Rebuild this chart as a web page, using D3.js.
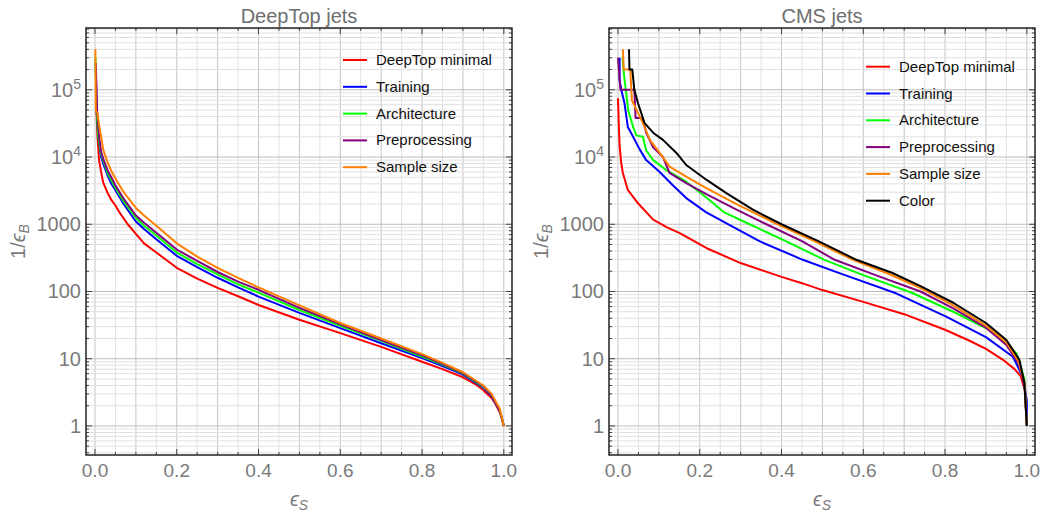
<!DOCTYPE html>
<html>
<head>
<meta charset="utf-8">
<script src="https://cdn.jsdelivr.net/npm/d3@7"></script>
<style>
  body { margin: 0; background: #fff; }
  svg { display: block; font-family: "Liberation Sans", Arial, sans-serif; }
</style>
</head>
<body>
<div id="chart"></div>
<script>
// ---- data: [signal efficiency, 1/background efficiency] ----
const dtMinimal = [[0.003, 6e4], [0.006, 2e4], [0.01, 9000], [0.015, 6000], [0.02, 4200], [0.03, 3000], [0.04, 2300], [0.05, 1900], [0.06, 1500], [0.08, 1000], [0.1, 720], [0.12, 520], [0.15, 380], [0.2, 225], [0.25, 155], [0.3, 113], [0.35, 85], [0.4, 63], [0.5, 38], [0.6, 24], [0.7, 15], [0.8, 9], [0.85, 7], [0.9, 5.3], [0.93, 4.2], [0.95, 3.4], [0.97, 2.6], [0.98, 2.1], [0.99, 1.6], [0.997, 1.2], [1.0, 1]];
const dtTraining = [[0.002, 2e5], [0.004, 5e4], [0.008, 2e4], [0.015, 1e4], [0.02, 8000], [0.03, 5500], [0.04, 4000], [0.05, 3200], [0.07, 2000], [0.1, 1100], [0.12, 850], [0.15, 600], [0.2, 340], [0.25, 230], [0.3, 160], [0.35, 115], [0.4, 84], [0.5, 48], [0.6, 28.5], [0.7, 17], [0.8, 10.2], [0.85, 7.8], [0.9, 5.8], [0.95, 3.7], [0.97, 2.8], [0.99, 1.7], [1.0, 1]];
const dtArchitecture = [[0.001, 3e5], [0.004, 5e4], [0.008, 2e4], [0.015, 1.1e4], [0.02, 9000], [0.03, 6000], [0.04, 4500], [0.05, 3500], [0.07, 2200], [0.1, 1250], [0.12, 950], [0.15, 680], [0.2, 380], [0.25, 255], [0.3, 180], [0.35, 128], [0.4, 96], [0.5, 53], [0.6, 31], [0.7, 18.5], [0.8, 10.8], [0.85, 8.2], [0.9, 6], [0.95, 3.8], [0.97, 2.9], [0.99, 1.7], [1.0, 1]];
const dtPreprocessing = [[0.002, 2.5e5], [0.005, 5e4], [0.01, 2e4], [0.015, 1.2e4], [0.02, 9500], [0.03, 6500], [0.04, 5000], [0.05, 3800], [0.07, 2400], [0.1, 1350], [0.12, 1050], [0.15, 750], [0.2, 420], [0.25, 285], [0.3, 195], [0.35, 140], [0.4, 106], [0.5, 57], [0.6, 32.5], [0.7, 19], [0.8, 11.2], [0.85, 8.4], [0.9, 6.1], [0.95, 3.9], [0.97, 2.9], [0.99, 1.7], [1.0, 1]];
const dtSampleSize = [[0.001, 4e5], [0.002, 5e4], [0.006, 4.5e4], [0.01, 3e4], [0.015, 2e4], [0.02, 1.3e4], [0.03, 8500], [0.04, 6200], [0.05, 4800], [0.07, 3000], [0.1, 1750], [0.12, 1350], [0.15, 950], [0.2, 520], [0.25, 330], [0.3, 225], [0.35, 160], [0.4, 115], [0.5, 62], [0.6, 34], [0.7, 20], [0.8, 11.7], [0.85, 8.7], [0.9, 6.3], [0.95, 4], [0.97, 3], [0.99, 1.8], [1.0, 1]];

const cmsMinimal = [[0.0, 7.5e4], [0.002, 3e4], [0.004, 1.45e4], [0.008, 8000], [0.012, 5800], [0.024, 3240], [0.049, 2050], [0.086, 1170], [0.12, 900], [0.151, 740], [0.217, 440], [0.3, 265], [0.4, 165], [0.45, 133], [0.5, 105], [0.6, 70], [0.7, 46], [0.8, 27], [0.86, 18.5], [0.9, 14], [0.94, 9.8], [0.97, 7], [0.985, 5.5], [0.995, 3.4], [1.0, 1]];
const cmsTraining = [[0.004, 3e5], [0.004, 1.4e5], [0.008, 1e5], [0.016, 6.3e4], [0.024, 2.8e4], [0.037, 2e4], [0.053, 1.3e4], [0.069, 9000], [0.102, 6000], [0.134, 3800], [0.167, 2450], [0.216, 1500], [0.27, 1000], [0.346, 560], [0.452, 296], [0.55, 180], [0.68, 94], [0.804, 42], [0.9, 21], [0.966, 10.7], [0.99, 5.4], [1.0, 2.4], [1.0, 1]];
const cmsArchitecture = [[0.011, 3e5], [0.016, 1.4e5], [0.02, 9e4], [0.025, 5e4], [0.037, 2.8e4], [0.045, 2.1e4], [0.061, 2e4], [0.069, 1.25e4], [0.086, 9000], [0.118, 6400], [0.167, 4300], [0.216, 2500], [0.26, 1500], [0.322, 1000], [0.4, 600], [0.505, 296], [0.6, 175], [0.72, 95], [0.82, 50], [0.918, 25], [0.975, 12], [0.994, 5], [1.0, 1]];
const cmsPreprocessing = [[0.0, 3e5], [0.004, 1.4e5], [0.006, 1e5], [0.04, 1e5], [0.043, 3.8e4], [0.06, 3.8e4], [0.069, 2.3e4], [0.086, 1.4e4], [0.11, 1e4], [0.126, 5800], [0.167, 4100], [0.216, 2800], [0.29, 1650], [0.363, 1000], [0.45, 560], [0.53, 296], [0.63, 175], [0.74, 100], [0.82, 56], [0.9, 29], [0.95, 16], [0.98, 8.5], [0.995, 4], [1.0, 1]];
const cmsSampleSize = [[0.012, 4e5], [0.014, 2e5], [0.03, 2e5], [0.034, 7e4], [0.061, 3.2e4], [0.078, 1.8e4], [0.102, 1.15e4], [0.126, 7200], [0.167, 5100], [0.216, 3450], [0.29, 2000], [0.39, 1000], [0.47, 600], [0.575, 296], [0.66, 185], [0.74, 112], [0.82, 62], [0.9, 31], [0.95, 17.5], [0.98, 9], [0.995, 4.2], [1.0, 1]];
const cmsColor = [[0.027, 4e5], [0.028, 2e5], [0.035, 2e5], [0.04, 1e5], [0.049, 6.3e4], [0.065, 3.2e4], [0.086, 2.3e4], [0.11, 1.8e4], [0.143, 1.15e4], [0.167, 7600], [0.216, 4600], [0.265, 2900], [0.33, 1650], [0.4, 1000], [0.49, 560], [0.583, 296], [0.67, 190], [0.74, 120], [0.82, 68], [0.9, 34], [0.95, 19], [0.982, 9.6], [0.994, 4.4], [1.0, 1]];

const dtNames = ["DeepTop minimal", "Training", "Architecture", "Preprocessing", "Sample size"];
const cmsNames = ["DeepTop minimal", "Training", "Architecture", "Preprocessing", "Sample size", "Color"];
const colors = ["#ff0000", "#0000ff", "#00ff00", "#800080", "#ff8000", "#000000"];
const xTicks = [0, 0.2, 0.4, 0.6, 0.8, 1.0];
const yTicks = [1, 10, 100, 1000, 1e4, 1e5];

const width = 1042,
  height = 513,
  plotTop = 28,
  plotBottom = 455;

const svg = d3.select("#chart").append("svg").attr("width", width).attr("height", height);

const drawPanel = (left, right, title, names, series, legendX, legendY, id) => {
  const x = d3.scaleLinear().domain([-0.022, 1.02]).range([left, right]);
  const y = d3.scaleLog().domain([0.37, 8.3e5]).range([plotBottom, plotTop]);
  const g = svg.append("g");

  // grid
  const xGrid = d3.range(0, 21).map((i) => i * 0.05);
  g.selectAll(".vgrid")
    .data(xGrid)
    .enter()
    .append("line")
    .attr("x1", (d) => x(d))
    .attr("x2", (d) => x(d))
    .attr("y1", plotTop)
    .attr("y2", plotBottom)
    .attr("stroke", (d, i) => (i % 2 === 0 ? "#c4c4c4" : "#e2e2e2"))
    .attr("stroke-width", 1);

  const yGrid = [];
  for (let k = -1; k <= 5; k++) for (let m = 1; m <= 9; m++) yGrid.push(m * Math.pow(10, k));
  const inY = yGrid.filter((v) => v > 0.37 && v < 8.3e5);
  g.selectAll(".hgrid")
    .data(inY)
    .enter()
    .append("line")
    .attr("x1", left)
    .attr("x2", right)
    .attr("y1", (d) => y(d))
    .attr("y2", (d) => y(d))
    .attr("stroke", (d) => (yTicks.includes(d) ? "#bdbdbd" : "#e0e0e0"))
    .attr("stroke-width", 1);

  // curves
  svg.append("clipPath").attr("id", id).append("rect").attr("x", left).attr("y", plotTop).attr("width", right - left).attr("height", plotBottom - plotTop);
  const line = d3
    .line()
    .x((d) => x(d[0]))
    .y((d) => y(d[1]));
  g.append("g")
    .attr("clip-path", "url(#" + id + ")")
    .selectAll("path")
    .data(series)
    .enter()
    .append("path")
    .attr("d", line)
    .attr("fill", "none")
    .attr("stroke", (d, i) => colors[i])
    .attr("stroke-width", 2)
    .attr("stroke-linejoin", "round");

  // ticks (inside frame, all four sides)
  const minorX = xGrid.filter((d, i) => i % 4 !== 0);
  const tickLines = [];
  xTicks.forEach((d) => {
    tickLines.push([x(d), plotBottom, x(d), plotBottom - 6]);
    tickLines.push([x(d), plotTop, x(d), plotTop + 6]);
  });
  minorX.forEach((d) => {
    tickLines.push([x(d), plotBottom, x(d), plotBottom - 3]);
    tickLines.push([x(d), plotTop, x(d), plotTop + 3]);
  });
  inY.forEach((d) => {
    const len = yTicks.includes(d) ? 6 : 3;
    tickLines.push([left, y(d), left + len, y(d)]);
    tickLines.push([right, y(d), right - len, y(d)]);
  });
  g.selectAll(".tick")
    .data(tickLines)
    .enter()
    .append("line")
    .attr("x1", (d) => d[0])
    .attr("y1", (d) => d[1])
    .attr("x2", (d) => d[2])
    .attr("y2", (d) => d[3])
    .attr("stroke", "#444")
    .attr("stroke-width", 1);

  // frame
  g.append("rect")
    .attr("x", left)
    .attr("y", plotTop)
    .attr("width", right - left)
    .attr("height", plotBottom - plotTop)
    .attr("fill", "none")
    .attr("stroke", "#222")
    .attr("stroke-width", 1.5);

  // tick labels
  g.selectAll(".xlab")
    .data(xTicks)
    .enter()
    .append("text")
    .attr("x", (d) => x(d))
    .attr("y", 477)
    .attr("text-anchor", "middle")
    .attr("font-size", 19)
    .attr("fill", "#7a7a7a")
    .text((d) => d.toFixed(1));

  const ylab = g
    .selectAll(".ylab")
    .data(yTicks)
    .enter()
    .append("text")
    .attr("x", left - 5)
    .attr("y", (d) => y(d) + 7)
    .attr("text-anchor", "end")
    .attr("font-size", 20)
    .attr("fill", "#7a7a7a");
  ylab.each(function (d) {
    const t = d3.select(this);
    if (d < 1e4) {
      t.text(String(d));
    } else {
      t.append("tspan").text("10");
      t.append("tspan").attr("dy", -8).attr("font-size", 14).text(Math.round(Math.log10(d)));
    }
  });

  // title and axis labels
  const cx = (left + right) / 2;
  g.append("text").attr("x", cx).attr("y", 23).attr("text-anchor", "middle").attr("font-size", 20).attr("fill", "#6e6e6e").text(title);

  const xl = g.append("text").attr("x", cx).attr("y", 506).attr("text-anchor", "middle").attr("font-size", 20).attr("fill", "#7a7a7a");
  xl.append("tspan").attr("font-style", "italic").text("\u03f5");
  xl.append("tspan").attr("font-style", "italic").attr("font-size", 14).attr("dy", 4).text("S");

  const yl = g
    .append("text")
    .attr("transform", "translate(" + (left - 61) + "," + (plotTop + plotBottom) / 2 + ") rotate(-90)")
    .attr("text-anchor", "middle")
    .attr("font-size", 20)
    .attr("fill", "#7a7a7a");
  yl.append("tspan").text("1/");
  yl.append("tspan").attr("font-style", "italic").text("\u03f5");
  yl.append("tspan").attr("font-style", "italic").attr("font-size", 14).attr("dy", 4).text("B");

  // legend
  const size = 24,
    step = 26.8;
  const legend = g.append("g");
  legend
    .selectAll("line")
    .data(names)
    .enter()
    .append("line")
    .attr("x1", legendX)
    .attr("x2", legendX + size)
    .attr("y1", (d, i) => legendY + i * step)
    .attr("y2", (d, i) => legendY + i * step)
    .attr("stroke", (d, i) => colors[i])
    .attr("stroke-width", 2);
  legend
    .selectAll("text")
    .data(names)
    .enter()
    .append("text")
    .attr("x", legendX + size + 9)
    .attr("y", (d, i) => legendY + i * step + 5)
    .attr("font-size", 15)
    .attr("fill", "#111")
    .text((d) => d);
};

drawPanel(86, 512, "DeepTop jets", dtNames, [dtMinimal, dtTraining, dtArchitecture, dtPreprocessing, dtSampleSize], 343, 60, "clipL");
drawPanel(609, 1035, "CMS jets", cmsNames, [cmsMinimal, cmsTraining, cmsArchitecture, cmsPreprocessing, cmsSampleSize, cmsColor], 866, 66.7, "clipR");
</script>
</body>
</html>
